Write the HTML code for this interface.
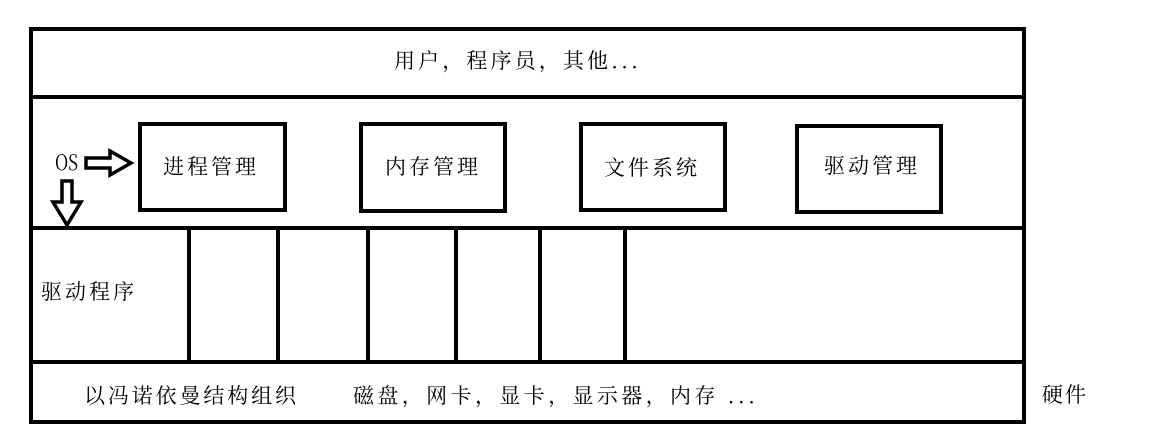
<!DOCTYPE html>
<html><head><meta charset="utf-8"><style>
html,body{margin:0;padding:0;background:#fff;width:1176px;height:438px;overflow:hidden}
text{font-family:"Noto Serif CJK SC","Noto Sans CJK SC",serif;font-size:21px;fill:#000}
</style></head><body>
<svg width="1176" height="438" xmlns="http://www.w3.org/2000/svg">
<g fill="none" stroke="#000" stroke-width="4">
<rect x="31" y="29" width="993" height="393"/>
<line x1="31" y1="97" x2="1024" y2="97"/>
<line x1="31" y1="228" x2="1024" y2="228"/>
<line x1="29" y1="362" x2="1024" y2="362"/>
<rect x="140" y="124" width="145" height="86"/>
<rect x="361" y="124" width="144" height="87"/>
<rect x="581" y="124" width="144" height="86"/>
<rect x="797" y="126" width="144" height="86"/>
<rect x="189" y="228" width="89" height="134"/>
<rect x="368" y="228" width="88" height="134"/>
<rect x="540" y="228" width="85" height="134"/>
<polygon stroke-width="3.5" points="86,158 110,158 110,151 131,163 110,175 110,168 86,168"/>
<polygon stroke-width="3.5" points="62,181 72,181 72,202 81,202 67,225 53,202 62,202"/>
</g>
<text x="394" y="68" textLength="244" lengthAdjust="spacing">用户，程序员，其他...</text>
<text x="55" y="170" font-size="17" font-family="Liberation Mono" textLength="23" lengthAdjust="spacingAndGlyphs">OS</text>
<text x="163" y="174" textLength="93" lengthAdjust="spacing">进程管理</text>
<text x="385" y="174" textLength="93" lengthAdjust="spacing">内存管理</text>
<text x="604" y="175" textLength="93" lengthAdjust="spacing">文件系统</text>
<text x="824" y="173" textLength="93" lengthAdjust="spacing">驱动管理</text>
<text x="41" y="299" textLength="93" lengthAdjust="spacing">驱动程序</text>
<text x="84" y="403" textLength="212" lengthAdjust="spacing">以冯诺依曼结构组织</text>
<text x="353" y="403" textLength="402" lengthAdjust="spacing">磁盘，网卡，显卡，显示器，内存 ...</text>
<text x="1042" y="402" textLength="44" lengthAdjust="spacing">硬件</text>
</svg>
</body></html>
